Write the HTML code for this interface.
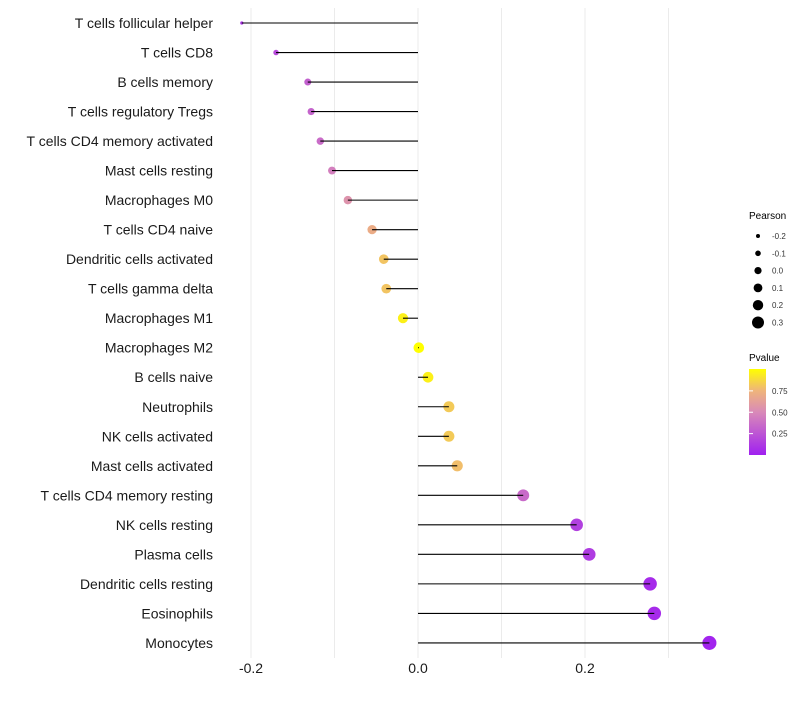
<!DOCTYPE html>
<html><head><meta charset="utf-8"><style>
body{margin:0;background:#fff;font-family:"Liberation Sans",sans-serif}
</style></head><body>
<svg id="chart" width="800" height="700" xmlns="http://www.w3.org/2000/svg" font-family="Liberation Sans, sans-serif">
<g id="grid"></g>
<g id="rows"></g>
<g id="xaxis"></g>
<g id="legend">
<text x="749" y="219" font-size="10">Pearson</text>
<text x="749" y="361" font-size="10">Pvalue</text>
<defs><linearGradient id="pg" x1="0" y1="1" x2="0" y2="0">
<stop offset="0" stop-color="#A020F0"/><stop offset="0.5" stop-color="#D98AB8"/><stop offset="0.75" stop-color="#EFB57A"/><stop offset="1" stop-color="#FFFF00"/></linearGradient></defs>
<rect x="749" y="369" width="17" height="86" fill="url(#pg)"/>
</g>
</svg>
<script>
const cells=["T cells follicular helper","T cells CD8","B cells memory","T cells regulatory  Tregs","T cells CD4 memory activated","Mast cells resting","Macrophages M0","T cells CD4 naive","Dendritic cells activated","T cells gamma delta","Macrophages M1","Macrophages M2","B cells naive","Neutrophils","NK cells activated","Mast cells activated","T cells CD4 memory resting","NK cells resting","Plasma cells","Dendritic cells resting","Eosinophils","Monocytes"];
const pearson=[-0.211,-0.170,-0.132,-0.128,-0.117,-0.103,-0.084,-0.055,-0.041,-0.038,-0.018,0.001,0.012,0.037,0.037,0.047,0.126,0.190,0.205,0.278,0.283,0.349];
const pvalue=[0.1,0.2,0.3,0.32,0.36,0.45,0.55,0.7,0.8,0.8,0.95,1.0,0.95,0.82,0.82,0.78,0.35,0.15,0.13,0.05,0.05,0.02];
const xTicks=[-0.2,0.0,0.2];
const gridVals=[-0.2,-0.1,0,0.1,0.2,0.3];
const sizeLegend=[-0.2,-0.1,0.0,0.1,0.2,0.3];
const pTicks=[0.75,0.50,0.25];
const NS="http://www.w3.org/2000/svg";
const X=v=>418+v*835;
const Y=i=>23+i*29.52;
const R=v=>Math.sqrt(Math.max(2.5,28+(v<0?120:62)*v));
const stops=[[0,[160,32,240]],[0.5,[217,138,184]],[0.75,[239,181,122]],[1,[255,255,0]]];
function col(p){for(let k=1;k<stops.length;k++){if(p<=stops[k][0]||k==stops.length-1){const[a0,a]=stops[k-1],[b0,b]=stops[k];const t=Math.min(1,Math.max(0,(p-a0)/(b0-a0)));
 return `rgb(${a.map((x,j)=>Math.round(x+(b[j]-x)*t)).join(',')})`;}}}
function mk(tag,attrs,parent){const e=document.createElementNS(NS,tag);for(const k in attrs)e.setAttribute(k,attrs[k]);parent.appendChild(e);return e;}
const grid=document.getElementById('grid'),rows=document.getElementById('rows'),xa=document.getElementById('xaxis'),lg=document.getElementById('legend');
gridVals.forEach(v=>{const l=mk('line',{x1:X(v),x2:X(v),y1:8,y2:658,stroke:'#ebebeb','stroke-width':1},grid);

});
cells.forEach((c,i)=>{const y=Y(i),v=pearson[i];
 const t=mk('text',{x:213,y:y+5,'text-anchor':'end','font-size':14,fill:'#1a1a1a'},rows);t.textContent=c;
 
 
 const d=mk('circle',{cx:X(v),cy:y,r:R(v),fill:col(pvalue[i])},rows);
 
 
 const s=mk('line',{x1:X(0),x2:X(v),y1:y,y2:y,stroke:'#000','stroke-width':1.1},rows);
 
 });
xTicks.forEach(v=>{const t=mk('text',{x:X(v),y:673,'text-anchor':'middle','font-size':14,fill:'#1a1a1a'},xa);t.textContent=v.toFixed(1);
 
 });
sizeLegend.forEach((v,i)=>{const y=236+i*17.3;
 const c=mk('circle',{cx:758,cy:y,r:2+i*0.8,fill:'#000'},lg);
 
 
 const t=mk('text',{x:772,y:y+3,'font-size':8,fill:'#333'},lg);t.textContent=v.toFixed(1);
 
 });
pTicks.forEach(p=>{const y=455-p*85.5;
 const l=mk('line',{x1:749,x2:753,y1:y,y2:y,stroke:'#fff'},lg);
 
 
 const t=mk('text',{x:772,y:y+3,'font-size':8,fill:'#333'},lg);t.textContent=p.toFixed(2);
 
 });
</script>
</body></html>
